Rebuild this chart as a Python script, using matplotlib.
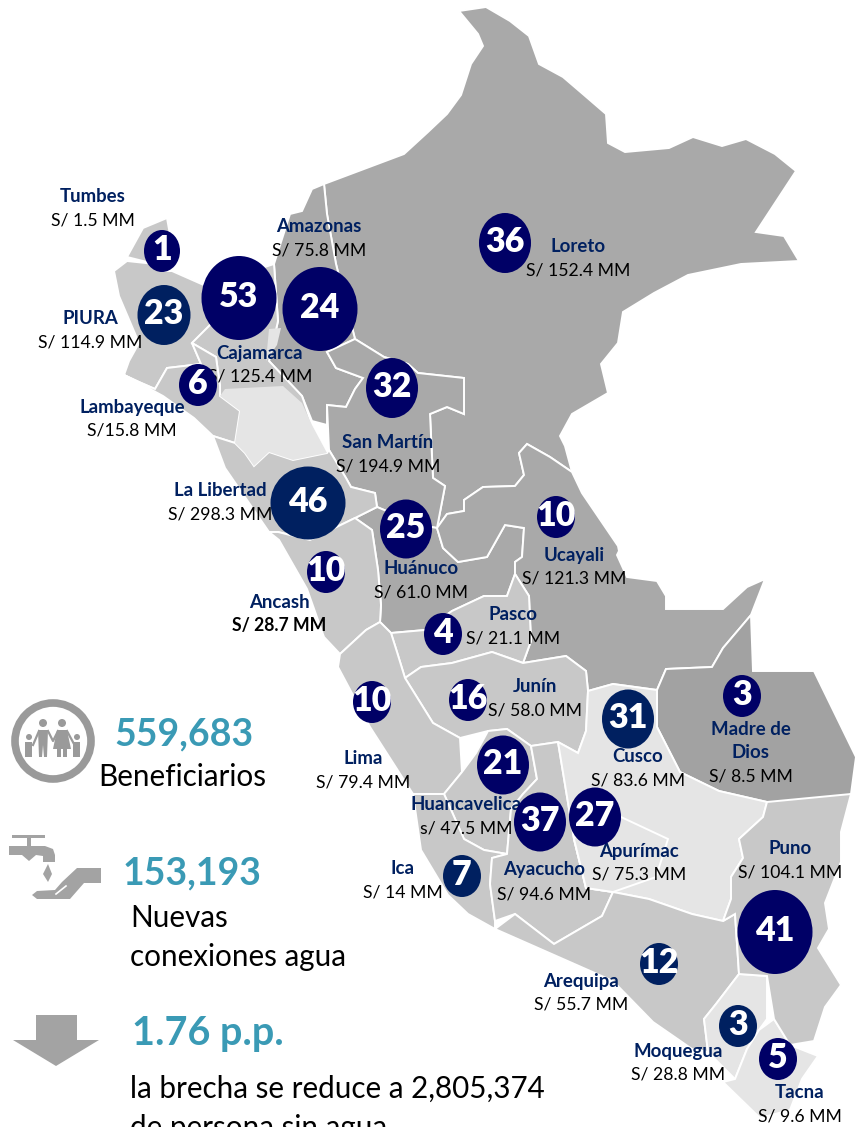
import matplotlib
matplotlib.use('Agg')
import matplotlib.pyplot as plt
from matplotlib.patches import Polygon, Ellipse, Circle, Rectangle

plt.rcParams['font.family'] = ['Lato', 'DejaVu Sans']

# Departments, amounts and project counts
regions = ['Tumbes', 'Amazonas', 'Loreto', 'PIURA', 'Cajamarca', 'Lambayeque', 'San Martín',
           'La Libertad', 'Huánuco', 'Ucayali', 'Ancash', 'Pasco', 'Junín', 'Lima', 'Cusco',
           'Madre de\nDios', 'Huancavelica', 'Apurímac', 'Ayacucho', 'Ica', 'Puno', 'Arequipa',
           'Moquegua', 'Tacna']
amounts = ['S/ 1.5 MM', 'S/ 75.8 MM', 'S/ 152.4 MM', 'S/ 114.9 MM', 'S/ 125.4 MM', 'S/15.8 MM',
           'S/ 194.9 MM', 'S/ 298.3 MM', 'S/ 61.0 MM', 'S/ 121.3 MM', 'S/ 28.7 MM', 'S/ 21.1 MM',
           'S/ 58.0 MM', 'S/ 79.4 MM', 'S/ 83.6 MM', 'S/ 8.5 MM', 's/ 47.5 MM', 'S/ 75.3 MM',
           'S/ 94.6 MM', 'S/ 14 MM', 'S/ 104.1 MM', 'S/ 55.7 MM', 'S/ 28.8 MM', 'S/ 9.6 MM']
counts = [1, 24, 36, 23, 53, 6, 32, 46, 25, 10, 10, 4, 16, 10, 31, 3, 21, 27, 37, 7, 41, 12, 3, 5]

# Where things sit on the map, in picture pixels
bubble_x = [162, 320, 505, 164, 239, 198, 392, 308, 406, 556, 326, 443, 468, 372, 628, 742, 503, 595, 540, 462, 775, 659, 738, 778]
bubble_y = [251, 309, 243, 315, 298, 385, 388, 503, 529, 517, 572, 634, 700, 702, 719, 696, 765, 817, 822, 876, 932, 964, 1026, 1059]
bubble_w = [36, 75, 52, 53, 75, 38, 52, 75, 52, 38, 38, 38, 38, 38, 52, 38, 52, 52, 52, 38, 75, 38, 38, 38]
bubble_h = [42, 84, 60, 60, 84, 42, 60, 73, 59, 42, 42, 42, 42, 42, 59, 42, 59, 59, 59, 42, 84, 42, 42, 42]
bubble_col = ['#000066', '#000066', '#000066', '#002060', '#000066', '#000066', '#000066', '#002060',
              '#000066', '#000066', '#000066', '#000066', '#000066', '#000066', '#002060', '#000066',
              '#000066', '#000066', '#000066', '#002060', '#000066', '#002060', '#002060', '#000066']
label_x = [93, 319, 578, 90, 260, 132, 388, 220, 421, 574, 279, 513, 535, 363, 638, 751, 466, 639, 544, 403, 790, 581, 678, 800]
name_y = [197, 227, 247, 319, 353, 407, 442, 491, 568, 555, 602, 614, 687, 759, 757, 741, 804, 852, 870, 868, 849, 982, 1051, 1093]
amount_y = [221, 251, 271, 342, 377, 431, 466, 515, 592, 578, 626, 638, 711, 783, 781, 777, 828, 875, 894, 892, 873, 1005, 1074, 1117]

# Department outlines, picture pixels
dark = '#A9A9A9'
mid = '#C8C8C8'
light = '#E5E5E5'
shapes = {
    'Loreto': (dark, [(324,184),(404,154),(428,132),(447,114),(461,95),(471,64),(483,46),(478,34),(459,11),(486,7),
                      (510,21),(529,36),(539,64),(563,77),(584,95),(606,114),(608,143),(625,152),(669,148),(693,137),
                      (722,146),(746,139),(775,154),(796,171),(756,232),(784,236),(799,261),(741,264),(688,275),
                      (654,293),(623,312),(618,343),(601,364),(608,393),(572,414),(560,436),(565,446),(572,472),
                      (550,457),(527,444),(519,453),(524,475),(515,486),(483,487),(464,500),(464,511),(447,514),
                      (437,528),(445,486),(433,478),(430,414),(447,407),(464,414),(464,378),(418,373),(408,364),
                      (384,357),(355,339),(336,264),(327,214)]),
    'Amazonas': (dark, [(324,184),(312,189),(302,211),(290,214),(274,264),(278,321),(269,361),(302,396),(312,421),
                        (327,425),(327,405),(346,407),(355,389),(363,378),(336,368),(327,352),(355,339),(336,264),(327,214)]),
    'SanMartin': (dark, [(327,405),(346,407),(355,389),(363,378),(336,368),(327,352),(355,339),(384,357),(408,364),
                         (418,373),(464,378),(464,414),(447,407),(430,414),(433,478),(445,486),(437,528),(420,525),
                         (377,507),(375,493),(351,487),(346,478),(329,450)]),
    'Huanuco': (dark, [(355,518),(377,507),(420,525),(437,528),(443,548),(458,562),(487,557),(505,525),(524,528),
                       (522,557),(515,562),(515,574),(507,596),(484,596),(452,611),(425,630),(391,633),(380,622),
                       (381,605),(378,570),(372,530)]),
    'Ucayali': (dark, [(527,444),(550,457),(572,472),(582,493),(618,546),(619,551),(617,555),(627,577),(657,581),
                       (666,596),(666,609),(723,609),(747,587),(765,579),(751,615),(723,648),(712,667),(666,669),
                       (657,690),(613,684),(588,691),(586,671),(566,656),(523,663),(531,641),(529,596),(515,574),
                       (515,562),(522,557),(524,528),(505,525),(487,557),(458,562),(443,548),(437,528),(447,514),
                       (464,511),(464,500),(483,487),(515,486),(524,475),(519,453)]),
    'MadreDeDios': ('#A2A2A2', [(666,669),(712,667),(723,648),(751,615),(753,671),(814,671),(856,757),(851,794),(808,815),
                                (767,802),(719,791),(680,772),(657,727),(657,690)]),
    'Tumbes': (mid, [(127,257),(143,228),(167,218),(172,246),(163,271),(155,264)]),
    'Piura': (mid, [(114,271),(127,261),(155,264),(163,271),(172,271),(206,286),(215,320),(192,343),(201,364),(167,368),
                    (155,389),(139,382),(124,375),(129,361),(139,343),(119,296)]),
    'Cajamarca': (mid, [(206,286),(274,264),(278,321),(269,361),(302,396),(312,425),(327,453),(293,460),(269,452),
                        (254,466),(245,453),(235,443),(240,411),(220,396),(220,386),(216,357),(192,343),(215,320)]),
    'Lambayeque': (mid, [(124,375),(139,382),(155,389),(167,368),(201,364),(192,343),(216,357),(220,386),(220,396),
                         (240,411),(235,443),(213,436),(194,418),(163,396)]),
    'LaLibertad': (mid, [(213,436),(235,443),(245,453),(254,466),(269,452),(293,460),(327,453),(329,450),(346,478),
                         (351,487),(375,493),(377,507),(355,518),(310,540),(278,532),(269,532),(225,468)]),
    'Ancash': (mid, [(355,518),(372,530),(378,570),(381,605),(380,622),(366,630),(340,654),(324,637),(307,589),(279,540),
                     (269,532),(278,532),(310,540)]),
    'Pasco': (mid, [(391,633),(425,630),(452,611),(484,596),(507,596),(515,574),(529,596),(531,641),(523,663),(515,660),
                    (492,652),(452,663),(421,667),(405,678),(397,652)]),
    'Junin': (mid, [(405,678),(421,667),(452,663),(492,652),(523,663),(566,656),(586,671),(588,691),(586,731),(578,753),
                    (558,742),(531,746),(507,729),(488,731),(460,738),(433,723)]),
    'Lima': (mid, [(391,633),(397,652),(405,678),(433,723),(460,738),(462,772),(444,794),(413,794),(370,727),(338,667),
                   (340,654),(366,630),(380,622)]),
    'Huancavelica': (mid, [(462,772),(476,753),(488,731),(507,729),(531,746),(537,779),(523,794),(511,809),(507,854),
                           (484,850),(464,839),(444,794)]),
    'Ica': (mid, [(413,794),(444,794),(464,839),(484,850),(507,854),(492,858),(490,884),(495,921),(495,929),(468,914),
                  (448,895),(421,850)]),
    'Ayacucho': (mid, [(507,854),(511,809),(523,794),(537,779),(531,746),(558,742),(574,839),(586,888),(613,892),(602,916),
                       (554,944),(515,914),(495,921),(490,884),(492,858)]),
    'Cusco': (light, [(588,691),(613,684),(657,690),(657,727),(680,772),(719,791),(767,802),(763,817),(739,839),(743,858),
                      (731,877),(731,899),(723,921),(692,914),(649,899),(613,892),(586,888),(574,839),(558,742),(578,753),(586,731)]),
    'Apurimac': (light, [(574,839),(590,810),(621,817),(668,839),(656,877),(613,892),(586,888)]),
    'Arequipa': (mid, [(495,929),(515,914),(554,944),(602,916),(613,892),(649,899),(692,914),(723,921),(735,914),(739,974),
                       (716,1004),(704,1019),(708,1052),(692,1049),(653,1022),(613,981),(554,955)]),
    'Moquegua': (light, [(704,1019),(716,1004),(739,974),(767,976),(767,1019),(759,1030),(747,1049),(735,1079),(708,1052)]),
    'Tacna': (light, [(735,1079),(747,1049),(759,1030),(774,1019),(790,1045),(818,1056),(802,1079),(790,1110),(760,1118),(723,1082)]),
    'Puno': (mid, [(767,802),(851,794),(841,832),(841,862),(825,903),(829,929),(818,948),(841,985),(825,1007),(814,1041),
                   (790,1045),(774,1019),(767,976),(739,974),(735,914),(723,921),(731,899),(731,877),(743,858),(739,839),(763,817)]),
}
# the pale highland part of Cajamarca has no white border on its north side
cajamarca_pale = [(225,389),(283,386),(302,403),(312,425),(327,453),(293,460),(269,452),(254,466),(245,453),(235,443),(240,411),(220,396)]
cajamarca_notch = [(269,329),(281,328),(277,345),(266,361)]

navy = '#002060'
teal = '#3A9AB5'
icon_grey = '#A3A3A3'
family_grey = '#9A9A9A'

fig = plt.figure(figsize=(8.56, 11.27), dpi=100)
ax = fig.add_axes([0, 0, 1, 1])
ax.set_xlim(0, 856)
ax.set_ylim(1127, 0)
ax.axis('off')

for name, (col, pts) in shapes.items():
    ax.add_patch(Polygon(pts, closed=True, facecolor=col, edgecolor='white', linewidth=1.4, zorder=1))
ax.add_patch(Polygon(cajamarca_pale, closed=True, facecolor=light, edgecolor='none', zorder=1.5))
ax.add_patch(Polygon(cajamarca_notch, closed=True, facecolor=light, edgecolor='none', zorder=1.5))

# labels go under the bubbles, a few are cut by them in the original
for i in range(len(regions)):
    ax.text(label_x[i], name_y[i], regions[i], color=navy, fontsize=13.4, fontweight='bold',
            ha='center', va='center', linespacing=1.45, zorder=2)
    weight = 'bold' if regions[i] == 'Ancash' else 'normal'
    ax.text(label_x[i], amount_y[i], amounts[i], color='black', fontsize=12.7, fontweight=weight,
            ha='center', va='center', zorder=2)

for i in range(len(counts)):
    ax.add_patch(Ellipse((bubble_x[i], bubble_y[i]), bubble_w[i], bubble_h[i], facecolor=bubble_col[i],
                         edgecolor='none', zorder=3))
    ax.text(bubble_x[i], bubble_y[i] - 1, str(counts[i]), color='white', fontsize=24.5, fontweight='heavy',
            ha='center', va='center', zorder=4)

# Family icon
ax.add_patch(Circle((53, 741), 38, facecolor='white', edgecolor=family_grey, linewidth=5.5, zorder=2))
for hx, hy, r in [(43, 723, 4), (62, 723, 4), (29, 737, 3), (77, 737, 3)]:
    ax.add_patch(Circle((hx, hy), r, facecolor=family_grey, edgecolor='none', zorder=3))
ax.add_patch(Polygon([(38, 730), (48, 730), (47, 757), (44, 757), (43, 745), (42, 757), (39, 757)],
                     closed=True, facecolor=family_grey, edgecolor='none', zorder=3))
ax.add_patch(Polygon([(57, 730), (67, 730), (71, 749), (67, 749), (67, 757), (63, 757), (63, 749), (61, 749),
                      (61, 757), (57, 757), (57, 749), (53, 749)],
                     closed=True, facecolor=family_grey, edgecolor='none', zorder=3))
ax.add_patch(Rectangle((25.5, 742), 7, 15, facecolor=family_grey, edgecolor='none', zorder=3))
ax.add_patch(Rectangle((73.5, 742), 7, 15, facecolor=family_grey, edgecolor='none', zorder=3))
ax.plot([39, 33], [731, 745], color=family_grey, linewidth=1.6, zorder=3)
ax.plot([48, 53, 58], [731, 741, 731], color=family_grey, linewidth=1.6, zorder=3)
ax.plot([67, 74], [731, 744], color=family_grey, linewidth=1.6, zorder=3)

# Tap and hand icon
ax.add_patch(Rectangle((12, 835), 33, 2.5, facecolor=icon_grey, edgecolor='none'))
ax.add_patch(Rectangle((27, 835), 4, 12, facecolor=icon_grey, edgecolor='none'))
ax.add_patch(Polygon([(9, 846), (45, 846), (53, 849), (55, 855), (55, 862), (43, 862), (43, 856), (36, 855),
                      (29, 861), (22, 855), (9, 855)],
                     closed=True, facecolor=icon_grey, edgecolor='none'))
ax.add_patch(Polygon([(48, 864), (52, 874), (48, 882), (43, 874)], closed=True, facecolor=icon_grey, edgecolor='none'))
ax.add_patch(Polygon([(101, 868), (77, 868), (62, 882), (55, 890), (37, 891), (32, 895), (37, 899), (70, 899),
                      (84, 883), (101, 883)],
                     closed=True, facecolor=icon_grey, edgecolor='none'))
ax.plot([56, 66], [894, 886], color='white', linewidth=1.2)

# Down arrow
ax.add_patch(Polygon([(36, 1015), (77, 1015), (77, 1040), (99, 1040), (56, 1066), (13, 1040), (36, 1040)],
                     closed=True, facecolor=icon_grey, edgecolor='none'))

# Left column text
ax.text(184, 734, '559,683', color=teal, fontsize=27, fontweight='bold', ha='center', va='center')
ax.text(182, 777, 'Beneficiarios', color='black', fontsize=21.3, ha='center', va='center')
ax.text(192, 873, '153,193', color=teal, fontsize=27, fontweight='bold', ha='center', va='center')
ax.text(130, 918, 'Nuevas', color='black', fontsize=21.3, ha='left', va='center')
ax.text(130, 957, 'conexiones agua', color='black', fontsize=21.3, ha='left', va='center')
ax.text(132, 1034, '1.76 p.p.', color=teal, fontsize=28.5, fontweight='bold', ha='left', va='center')
ax.text(130, 1089, 'la brecha se reduce a 2,805,374', color='black', fontsize=21.3, ha='left', va='center')
ax.text(130, 1128, 'de persona sin agua', color='black', fontsize=21.3, ha='left', va='center')

fig.savefig('out.png', dpi=100)
